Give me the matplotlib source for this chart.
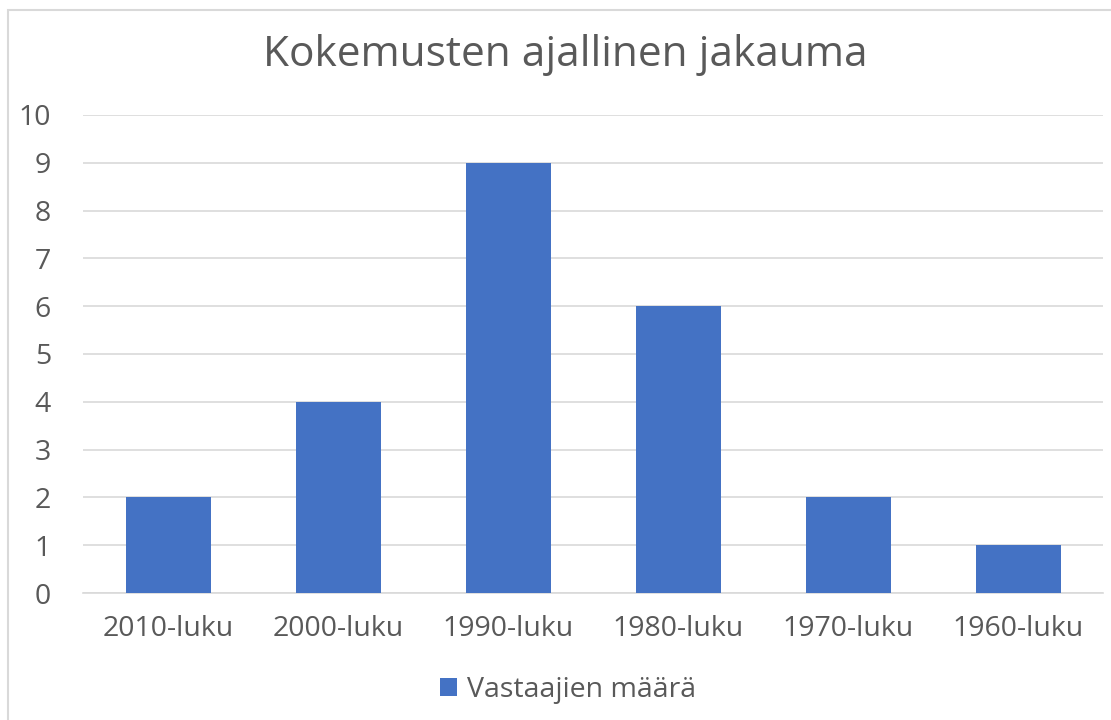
import matplotlib.pyplot as plt
from matplotlib.patches import Rectangle

plt.rcParams['font.family'] = ['Open Sans', 'DejaVu Sans']

# data
decades = ['2010-luku', '2000-luku', '1990-luku', '1980-luku', '1970-luku', '1960-luku']
counts = [2, 4, 9, 6, 2, 1]
series_name = 'Vastaajien määrä'
title = 'Kokemusten ajallinen jakauma'

text_col = '#595959'
bar_col = '#4472C4'
grid_col = '#D9D9D9'

W, H = 1111, 720
fig = plt.figure(figsize=(W / 100, H / 100), dpi=100)
ax = fig.add_axes([83 / W, 1 - 593 / H, (1103 - 83) / W, (593 - 115) / H])

# chart border
fig.patches.append(Rectangle((8 / W, -0.01), 1.1, 1 - 10 / H + 0.01, transform=fig.transFigure,
                             fill=False, edgecolor='#D9D9D9', linewidth=1.5))

ax.bar(range(len(decades)), counts, width=0.5, color=bar_col, label=series_name, zorder=3)
ax.set_xlim(-0.5, len(decades) - 0.5)
ax.set_ylim(0, 10)
ax.set_yticks(range(0, 11))
ax.set_xticks(range(len(decades)))
ax.set_xticklabels(decades)
ax.yaxis.grid(True, color=grid_col, linewidth=1.2, zorder=0)
for s in ['top', 'right', 'left']:
    ax.spines[s].set_visible(False)
ax.spines['bottom'].set_color(grid_col)
ax.spines['bottom'].set_linewidth(1.2)
ax.tick_params(axis='both', length=0, labelsize=20.5, labelcolor=text_col)
ax.tick_params(axis='y', pad=23)
ax.tick_params(axis='x', pad=16)

fig.text(565 / W, 1 - 55 / H, title, ha='center', va='center', fontsize=30.5, color=text_col)

fig.legend(loc='center', bbox_to_anchor=(568 / W, 1 - 690 / H), frameon=False,
           fontsize=20.5, labelcolor=text_col, handlelength=0.6, handleheight=0.6,
           handletextpad=0.35)

fig.savefig('out.png', dpi=100)
